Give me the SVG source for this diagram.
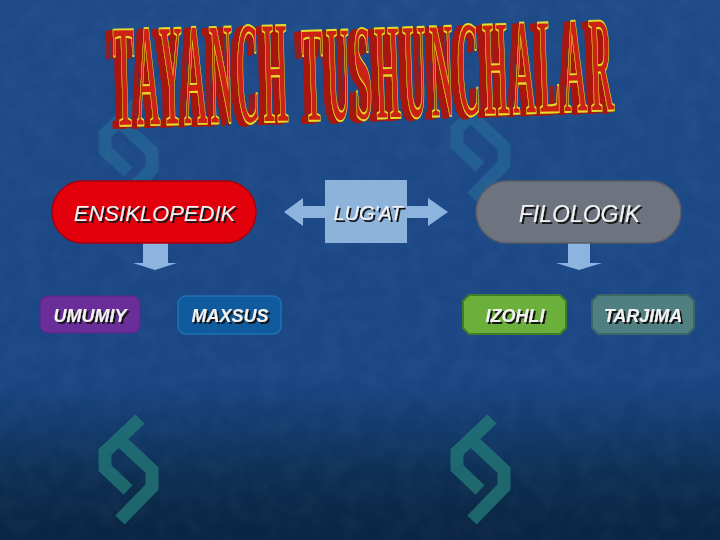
<svg xmlns="http://www.w3.org/2000/svg" width="720" height="540" viewBox="0 0 720 540">
<defs>
<linearGradient id="bg" x1="0" y1="0" x2="0" y2="1">
<stop offset="0" stop-color="#1e4b88"/>
<stop offset="0.7" stop-color="#1b4684"/>
<stop offset="0.8" stop-color="#123a6a"/>
<stop offset="0.9" stop-color="#0d2c4e"/>
<stop offset="1" stop-color="#0a2442"/>
</linearGradient>
<filter id="tex" x="0" y="0" width="100%" height="100%">
<feTurbulence type="fractalNoise" baseFrequency="0.05" numOctaves="3" seed="4"/>
<feColorMatrix type="matrix" values="0 0 0 0 0.6  0 0 0 0 0.75  0 0 0 0 1  0 0 0 0.3 -0.1"/>
</filter>
<filter id="extr" x="-10%" y="-10%" width="120%" height="130%">
<feOffset in="SourceAlpha" dx="-2.5" dy="0.8" result="o1"/>
<feOffset in="SourceAlpha" dx="-5" dy="1.6" result="o2"/>
<feOffset in="SourceAlpha" dx="-7" dy="2.4" result="o3"/>
<feMerge result="m"><feMergeNode in="o1"/><feMergeNode in="o2"/><feMergeNode in="o3"/></feMerge>
<feFlood flood-color="#a8140e"/>
<feComposite in2="m" operator="in" result="ex"/>
<feMerge><feMergeNode in="ex"/><feMergeNode in="SourceGraphic"/></feMerge>
</filter>
<filter id="shd" x="-10%" y="-20%" width="120%" height="150%">
<feOffset in="SourceAlpha" dx="1.5" dy="1.5" result="o"/>
<feFlood flood-color="#151515"/>
<feComposite in2="o" operator="in" result="s"/>
<feMerge><feMergeNode in="s"/><feMergeNode in="SourceGraphic"/></feMerge>
</filter>
<symbol id="wm" viewBox="0 0 70 115" width="70" height="115">
<g fill="none" stroke-width="13" stroke-linejoin="miter">
<polyline points="45,6 10,39 10,55 33,77"/>
<polyline points="28,30 57,57 57,74 25,107"/>
</g>
</symbol>
</defs>
<style>
.lbl{font-family:"Liberation Sans",Arial,sans-serif;font-style:italic;text-anchor:middle;fill:#f2f2f2;filter:url(#shd)}
.big{font-size:22px}
.sm{font-size:18px;font-weight:bold}
.arr{fill:#8db4de}
.ttl{font-family:"Liberation Serif","Times New Roman",serif;font-weight:bold;font-size:32px;fill:#cc2016;stroke:#e4dc2a;stroke-width:1.4}
</style>
<rect width="720" height="540" fill="url(#bg)"/>
<rect width="720" height="540" filter="url(#tex)" opacity="0.25"/>
<g id="watermarks">
<use href="#wm" x="95" y="95" stroke="#2c7ea3" opacity="0.4"/>
<use href="#wm" x="447" y="90" stroke="#2c7ea3" opacity="0.4"/>
<use href="#wm" x="95" y="413" stroke="#24807a" opacity="0.7"/>
<use href="#wm" x="447" y="413" stroke="#24807a" opacity="0.7"/>
</g>
<g id="title" filter="url(#extr)">
<g transform="translate(115,126) rotate(-1.5) scale(1,4.6)">
<text class="ttl" x="0" y="0" letter-spacing="3.4" vector-effect="non-scaling-stroke">TAYANCH</text>
</g>
<g transform="translate(304,121) rotate(-2) scale(1,4.3)">
<text class="ttl" x="0" y="0" letter-spacing="3.5" vector-effect="non-scaling-stroke">TUSHUNCHALAR</text>
</g>
</g>
<g id="connectors">
<polygon class="arr" points="284,212 303,198 303,206 428,206 428,198 448,212 428,226 428,218 303,218 303,226"/>
<polygon class="arr" points="143,243 168,243 168,263 177,263 155,270 133,263 143,263"/>
<polygon class="arr" points="568,243 590,243 590,263 602,263 579,270 556,263 568,263"/>
</g>
<g id="lugat">
<rect x="325" y="180" width="82" height="63" fill="#8eb3db"/>
<text class="lbl" x="368" y="220" font-size="20">LUG'AT</text>
</g>
<g id="ensiklopedik">
<rect x="52" y="181" width="204" height="62" rx="31" fill="#e2000c" stroke="#a8000a" stroke-width="1.5"/>
<text class="lbl big" x="154.5" y="220.5">ENSIKLOPEDIK</text>
</g>
<g id="filologik">
<rect x="476" y="181" width="205" height="62" rx="31" fill="#6d737f" stroke="#565c66" stroke-width="1.5"/>
<text class="lbl" x="579.5" y="222" font-size="23">FILOLOGIK</text>
</g>
<g id="umumiy">
<rect x="40" y="296" width="100" height="37" rx="8" fill="#6a2e9b" stroke="#5a2488" stroke-width="1"/>
<text class="lbl sm" x="90" y="322">UMUMIY</text>
</g>
<g id="maxsus">
<rect x="178" y="296" width="103" height="38" rx="8" fill="#0f5b9e" stroke="#1f72b4" stroke-width="1.5"/>
<text class="lbl sm" x="230" y="322">MAXSUS</text>
</g>
<g id="izohli">
<polygon points="469,295 560,295 566,301 566,328 560,334 469,334 463,328 463,301" fill="#6bb03a" stroke="#3f7e2a" stroke-width="2"/>
<text class="lbl sm" x="515" y="322">IZOHLI</text>
</g>
<g id="tarjima">
<polygon points="598,295 688,295 694,301 694,328 688,334 598,334 592,328 592,301" fill="#4f7f80" stroke="#3a6668" stroke-width="2"/>
<text class="lbl sm" x="643" y="322">TARJIMA</text>
</g>
</svg>
